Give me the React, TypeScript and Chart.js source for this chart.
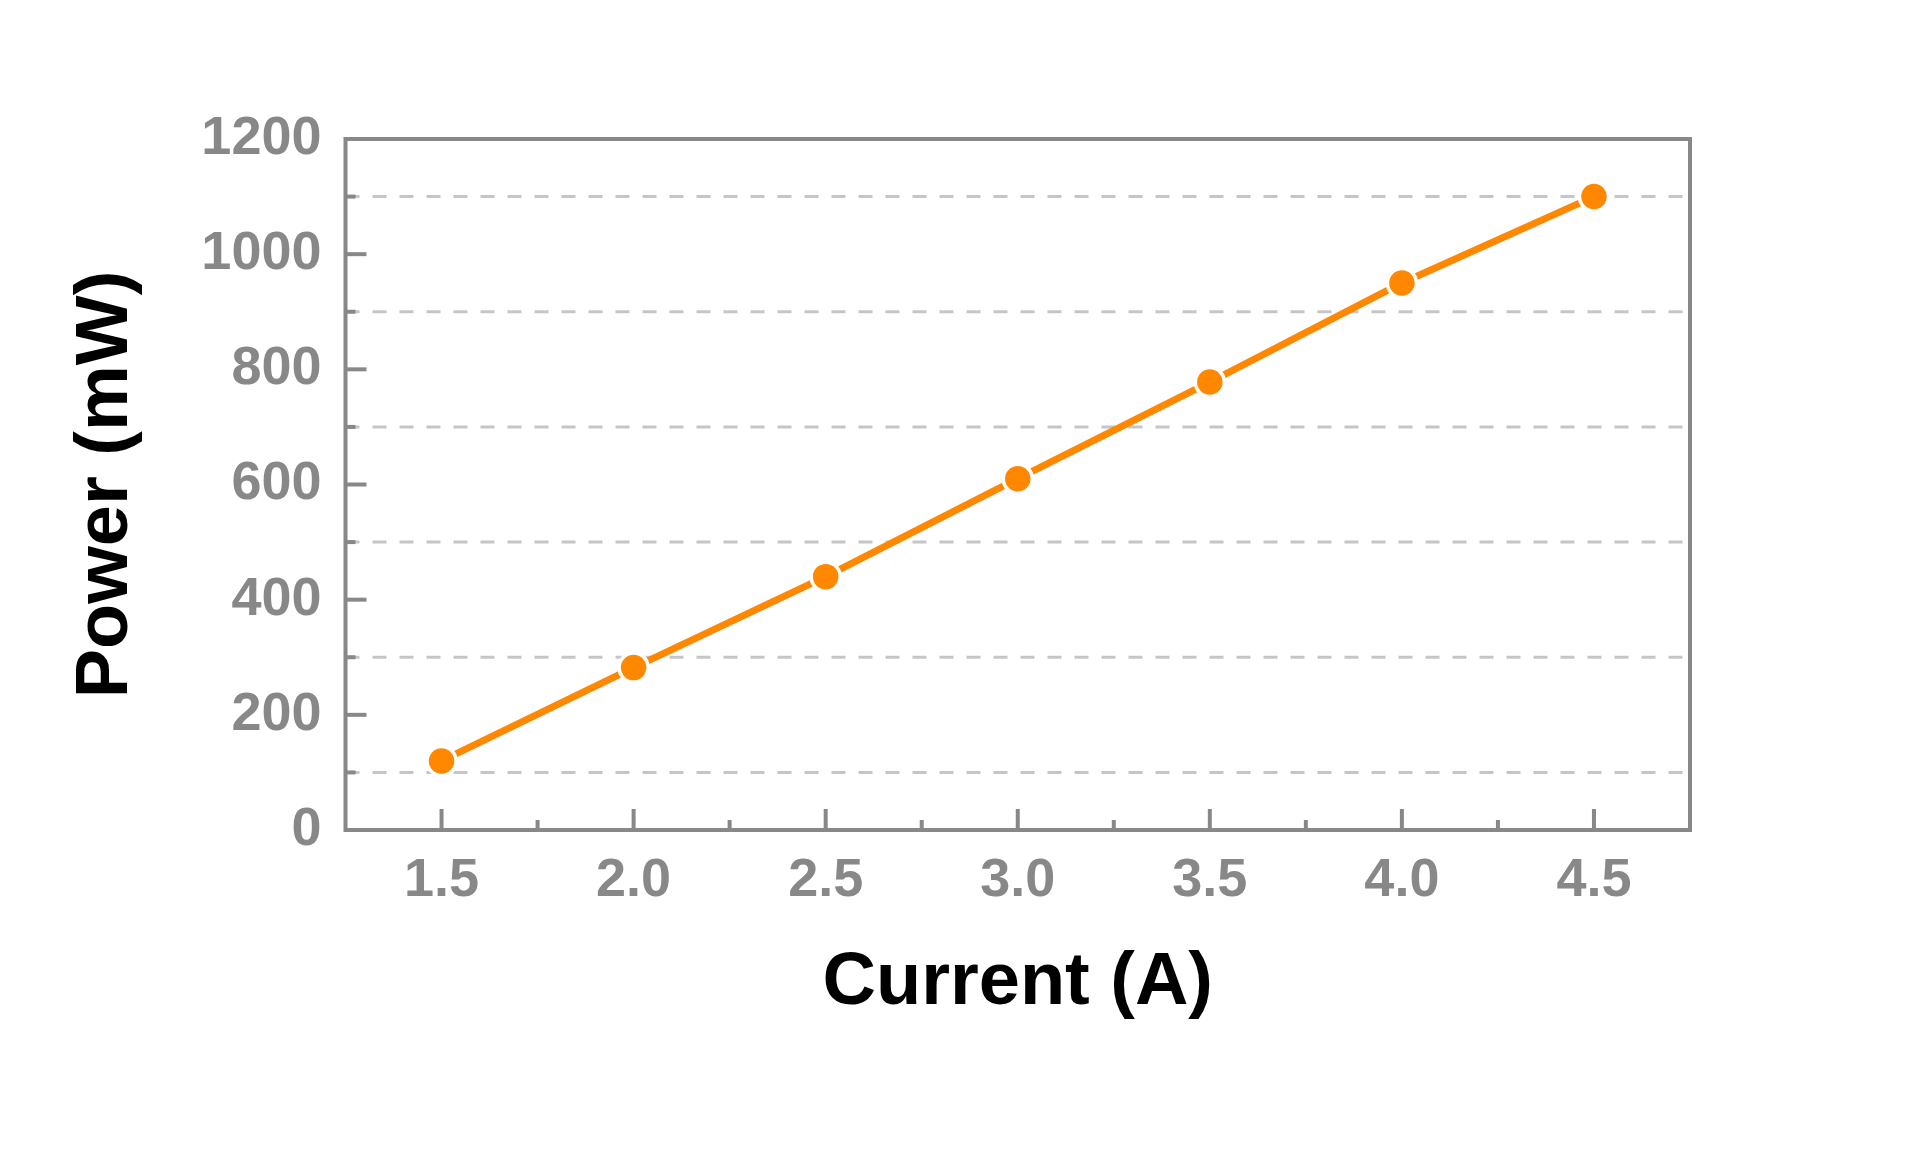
import React, { useEffect, useRef } from "react";
import { Chart, registerables } from "chart.js";

Chart.register(...registerables);

const currents = [1.5, 2.0, 2.5, 3.0, 3.5, 4.0, 4.5];
const powers = [120, 282, 440, 610, 778, 950, 1100];
const xTickValues = [1.5, 2.0, 2.5, 3.0, 3.5, 4.0, 4.5];
const xMinorValues = [1.75, 2.25, 2.75, 3.25, 3.75, 4.25];
const yTickValues = [0, 200, 400, 600, 800, 1000, 1200];
const yMinorValues = [100, 300, 500, 700, 900, 1100];
const xLabel = "Current (A)";
const yLabel = "Power (mW)";

const FONT = "'Liberation Sans', Arial, sans-serif";
const AXIS_GRAY = "#888888";

const framePlugin = {
  id: "framePlugin",
  beforeDatasetsDraw(chart: any) {
    const { ctx, chartArea, scales } = chart;
    const { left, right } = chartArea;
    ctx.save();
    ctx.strokeStyle = "#c6c6c6";
    ctx.lineWidth = 3;
    ctx.setLineDash([14, 13]);
    yMinorValues.forEach((v) => {
      const py = scales.y.getPixelForValue(v);
      ctx.beginPath();
      ctx.moveTo(left, py);
      ctx.lineTo(right, py);
      ctx.stroke();
    });
    ctx.restore();
  },
  afterDraw(chart: any) {
    const { ctx, chartArea, scales } = chart;
    const { left, right, top, bottom } = chartArea;
    ctx.save();
    ctx.strokeStyle = AXIS_GRAY;
    ctx.lineWidth = 4;
    ctx.setLineDash([]);
    const line = (x1: number, y1: number, x2: number, y2: number) => {
      ctx.beginPath();
      ctx.moveTo(x1, y1);
      ctx.lineTo(x2, y2);
      ctx.stroke();
    };
    xTickValues.forEach((v) => {
      const px = scales.x.getPixelForValue(v);
      line(px, bottom, px, bottom - 21);
    });
    xMinorValues.forEach((v) => {
      const px = scales.x.getPixelForValue(v);
      line(px, bottom, px, bottom - 10);
    });
    yTickValues.forEach((v) => {
      const py = scales.y.getPixelForValue(v);
      line(left, py, left + 21, py);
    });
    yMinorValues.forEach((v) => {
      const py = scales.y.getPixelForValue(v);
      line(left, py, left + 10, py);
    });
    ctx.strokeRect(left, top, right - left, bottom - top);
    ctx.restore();
  },
};

export default function App() {
  const canvasRef = useRef<HTMLCanvasElement | null>(null);

  useEffect(() => {
    document.body.style.margin = "0";
    const canvas = canvasRef.current;
    if (!canvas) return;
    const chart = new Chart(canvas, {
      type: "line",
      data: {
        datasets: [
          {
            data: currents.map((c, i) => ({ x: c, y: powers[i] })),
            borderColor: "#ff8800",
            backgroundColor: "#ff8800",
            borderWidth: 7,
            borderCapStyle: "round",
            pointRadius: 14.5,
            pointBorderWidth: 3.5,
            pointBorderColor: "#ffffff",
            pointBackgroundColor: "#ff8800",
            tension: 0,
            clip: false,
          } as any,
        ],
      },
      options: {
        animation: false,
        responsive: true,
        maintainAspectRatio: false,
        layout: { padding: { left: 0, top: 139, right: 230, bottom: 0 } },
        plugins: {
          legend: { display: false },
          tooltip: { enabled: false },
        },
        scales: {
          x: {
            type: "linear",
            min: 1.25,
            max: 4.75,
            grid: { display: false, drawTicks: false },
            border: { display: false },
            afterBuildTicks: (scale: any) => {
              scale.ticks = xTickValues.map((v) => ({ value: v }));
            },
            afterFit: (scale: any) => {
              scale.height = 322;
            },
            ticks: {
              padding: 19,
              color: AXIS_GRAY,
              font: { family: FONT, size: 54, weight: "bold" },
              maxRotation: 0,
              callback: (v: any) => Number(v).toFixed(1),
            },
            title: {
              display: true,
              text: xLabel,
              color: "#000000",
              font: { family: FONT, size: 74, weight: "bold" },
              padding: 124,
            },
          },
          y: {
            type: "linear",
            min: 0,
            max: 1200,
            grid: { display: false, drawTicks: false },
            border: { display: false },
            afterBuildTicks: (scale: any) => {
              scale.ticks = yTickValues.map((v) => ({ value: v }));
            },
            afterFit: (scale: any) => {
              scale.width = 345.5;
            },
            ticks: {
              padding: 24,
              color: AXIS_GRAY,
              font: { family: FONT, size: 54, weight: "bold" },
              callback: (v: any) => String(v),
            },
            title: {
              display: true,
              text: yLabel,
              color: "#000000",
              font: { family: FONT, size: 74, weight: "bold" },
              padding: 62,
            },
          },
        },
      },
      plugins: [framePlugin],
    });
    return () => chart.destroy();
  }, []);

  return (
    <div style={{ width: 1920, height: 1152, position: "relative", background: "#ffffff" }}>
      <canvas ref={canvasRef} />
    </div>
  );
}
